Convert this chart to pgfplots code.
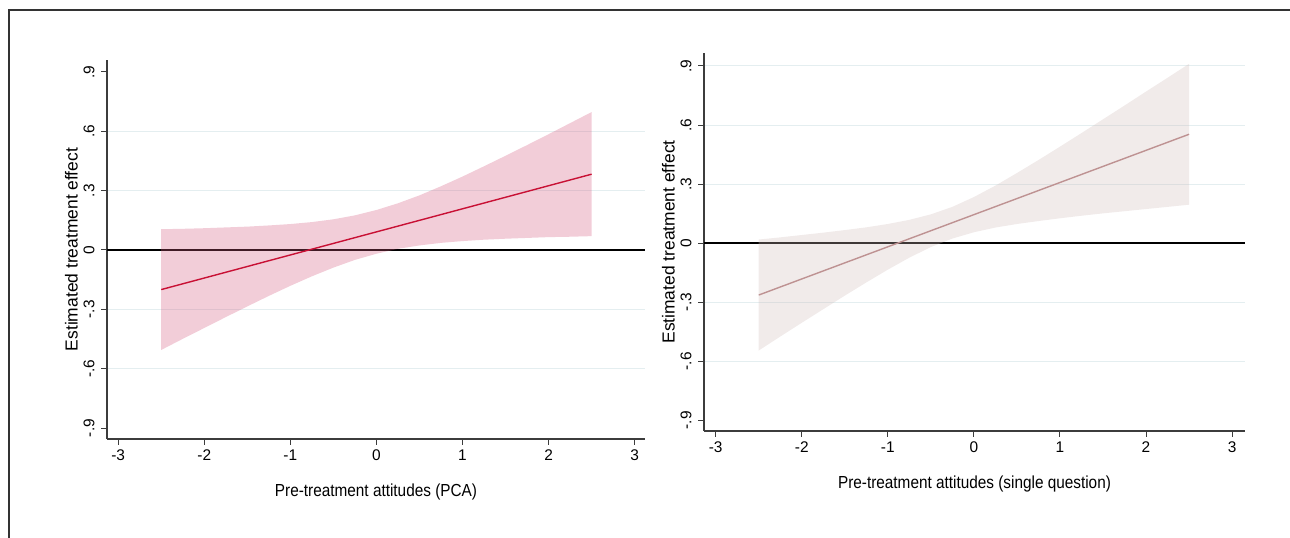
\documentclass[border=0pt]{standalone}
\usepackage{fontspec}
\setmainfont{Liberation Sans}
\usepackage{graphicx}
\usepackage{pgfplots}
\pgfplotsset{compat=1.18}

\definecolor{bandA}{RGB}{212,88,125}
\definecolor{lineA}{RGB}{200,16,52}
\definecolor{bandB}{RGB}{208,188,185}
\definecolor{lineB}{RGB}{190,146,146}
\definecolor{gridc}{RGB}{228,238,240}
\definecolor{axisc}{RGB}{60,60,60}

\newcommand{\narrow}[1]{\scalebox{0.88}[1]{#1}}

\pgfplotsset{
  panel/.style={
    scale only axis,
    anchor=south west,
    axis x line*=bottom, axis y line*=left,
    axis line style={-, axisc, line width=1.1bp},
    tick style={axisc, line width=1bp},
    major tick length=6bp,
    tick align=outside,
    xmin=-3.13, xmax=3.12,
    ymin=-0.955, ymax=0.96,
    xtick={-3,-2,-1,0,1,2,3},
    xticklabels={-3,-2,-1,0,1,2,3},
    ytick={-0.6,-0.3,0,0.3,0.6},
    yticklabels={-.6,-.3,0,.3,.6},
    ymajorgrids=true,
    grid style={gridc, line width=1bp},
    every tick label/.append style={font=\fontsize{15.5}{18}\selectfont},
    yticklabel style={rotate=90, anchor=south, yshift=3bp, font=\fontsize{15.5}{18}\selectfont},
    xticklabel style={yshift=-1bp, font=\fontsize{15.5}{18}\selectfont},
    label style={font=\fontsize{17.5}{20}\selectfont},
    ylabel={Estimated treatment effect},
    ylabel style={at={(axis description cs:-0.066,0.5)}, anchor=center},
    xlabel style={at={(axis description cs:0.5,-0.14)}, anchor=center},
  }
}

\begin{document}
\begin{tikzpicture}
\draw[line width=2bp, black!80] (9bp,0bp) -- (9bp,528bp) -- (1290bp,528bp);

\begin{axis}[panel,
  at={(107bp,99bp)}, width=538bp, height=379bp,
  xlabel={\narrow{Pre-treatment attitudes (PCA)}},
  extra y ticks={-0.9,0.9}, extra y tick labels={-.9,.9},
  extra y tick style={grid=none},
]
\addplot[black, line width=1.3bp] coordinates {(-3.13,0) (3.12,0)};
% confidence band: upper edge left to right, lower edge right to left
\addplot[draw=none, fill=bandA, fill opacity=0.3] coordinates {
(-2.5,0.105) (-2.25,0.107) (-2,0.110) (-1.75,0.114) (-1.5,0.118) (-1.25,0.124)
(-1,0.131) (-0.75,0.141) (-0.5,0.155) (-0.25,0.175) (0,0.202) (0.25,0.236)
(0.5,0.276) (0.75,0.322) (1,0.371) (1.25,0.423) (1.5,0.476) (1.75,0.530)
(2,0.585) (2.25,0.641) (2.5,0.697)
(2.5,0.070) (2.25,0.067) (2,0.065) (1.75,0.061) (1.5,0.057) (1.25,0.052)
(1,0.045) (0.75,0.036) (0.5,0.023) (0.25,0.006) (0,-0.019) (-0.25,-0.050)
(-0.5,-0.089) (-0.75,-0.133) (-1,-0.181) (-1.25,-0.232) (-1.5,-0.285)
(-1.75,-0.339) (-2,-0.394) (-2.25,-0.449) (-2.5,-0.505)
} -- cycle;
\addplot[lineA, line width=1.4bp] coordinates {(-2.5,-0.200) (2.5,0.383)};
\end{axis}

\begin{axis}[panel,
  at={(704bp,107bp)}, width=541bp, height=378bp,
  xmin=-3.136, xmax=3.15, ymax=0.966,
  xlabel={\narrow{Pre-treatment attitudes (single question)}},
  ytick={-0.6,-0.3,0,0.3,0.6,0.9},
  yticklabels={-.6,-.3,0,.3,.6,.9},
  extra y ticks={-0.9}, extra y tick labels={-.9},
  extra y tick style={grid=none},
]
\addplot[black, line width=1.3bp] coordinates {(-3.136,0) (3.15,0)};
\addplot[draw=none, fill=bandB, fill opacity=0.3] coordinates {
(-2.5,0.018) (-2.25,0.029) (-2,0.041) (-1.75,0.053) (-1.5,0.066) (-1.25,0.080)
(-1,0.097) (-0.75,0.118) (-0.5,0.146) (-0.25,0.184) (0,0.234) (0.25,0.292)
(0.5,0.356) (0.75,0.422) (1,0.490) (1.25,0.559) (1.5,0.629) (1.75,0.699)
(2,0.770) (2.25,0.840) (2.5,0.911)
(2.5,0.195) (2.25,0.184) (2,0.173) (1.75,0.162) (1.5,0.151) (1.25,0.139)
(1,0.126) (0.75,0.112) (0.5,0.097) (0.25,0.079) (0,0.055) (-0.25,0.023)
(-0.5,-0.020) (-0.75,-0.074) (-1,-0.135) (-1.25,-0.200) (-1.5,-0.267)
(-1.75,-0.336) (-2,-0.405) (-2.25,-0.475) (-2.5,-0.546)
} -- cycle;
\addplot[lineB, line width=1.4bp] coordinates {(-2.5,-0.264) (2.5,0.553)};
\end{axis}

\pgfresetboundingbox
\path[use as bounding box] (0bp,0bp) rectangle (1290bp,538bp);
\end{tikzpicture}
\end{document}
